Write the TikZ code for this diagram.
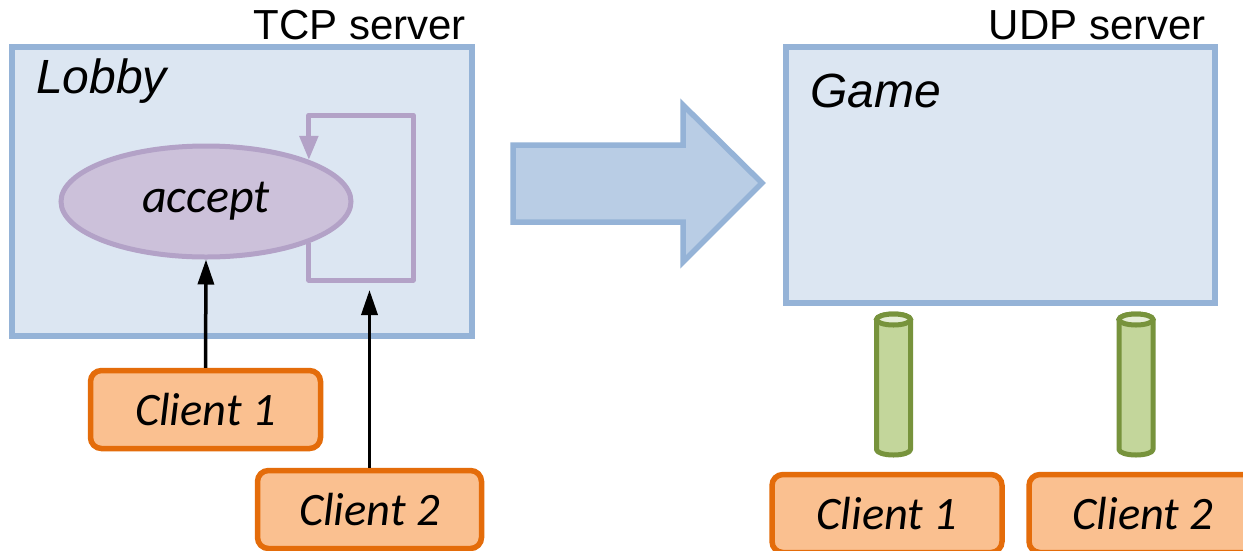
\documentclass[tikz,border=0pt]{standalone}
\usepackage{fontspec}
\setmainfont{Liberation Sans}
\newfontfamily\carlito{Carlito}
\usetikzlibrary{arrows.meta,shapes.geometric,calc}

\definecolor{srvfill}{HTML}{DCE6F2}
\definecolor{srvline}{HTML}{95B3D7}
\definecolor{accfill}{HTML}{CCC1DA}
\definecolor{accline}{HTML}{B3A2C7}
\definecolor{clifill}{HTML}{FAC090}
\definecolor{cliline}{HTML}{E46C0A}
\definecolor{pipefill}{HTML}{C3D69B}
\definecolor{pipeend}{HTML}{E6EED8}
\definecolor{pipeline}{HTML}{77933C}
\definecolor{bigarrow}{HTML}{B9CDE5}

\tikzset{
  server/.style={draw=srvline, fill=srvfill, line width=5.5pt, inner sep=0pt},
  client/.style={draw=cliline, fill=clifill, line width=5.5pt, rounded corners=11pt,
    inner sep=0pt, minimum width=230pt, minimum height=78pt,
    font=\carlito\itshape\fontsize{46.5}{56}\selectfont},
  title/.style={inner sep=0pt, font=\fontsize{42}{50}\selectfont},
  label/.style={inner sep=0pt, font=\itshape\fontsize{48}{58}\selectfont},
  pipebody/.style={draw=pipeline, fill=pipefill, line width=5pt, line join=round},
  pipetop/.style={draw=pipeline, fill=pipeend, line width=5pt},
  conn/.style={draw=black, line width=3.5pt, -{Triangle[length=25pt,width=16pt]}},
  selfloop/.style={draw=accline, line width=5pt, line join=round,
    -{Triangle[length=24pt,width=18pt]}},
}

\begin{document}
\begin{tikzpicture}[x=1pt, y=-1pt]
  \clip (0,0) rectangle (1243,550);
  \fill[white] (0,0) rectangle (1243,550);

  % TCP lobby
  \node[server, minimum width=460pt, minimum height=289pt] (lobby) at (242,191.5) {};
  \node[title, anchor=base east] (tcp) at (466,39) {TCP server};
  \node[label, anchor=base west] (lobbylbl) at (36,93) {Lobby};

  \node[ellipse, draw=accline, fill=accfill, line width=5pt, inner sep=0pt,
    minimum width=290pt, minimum height=111pt,
    font=\carlito\itshape\fontsize{48}{58}\selectfont] (acc) at (206,201.5) {accept};

  \coordinate (lb) at (413,280);
  \coordinate (lt) at (413,115);
  \draw[selfloop] (acc.-22) |- (lb) -- (lt) -| (acc.22);

  \node[client] (c1) at (205.5,409.5) {Client 1};
  \node[client, minimum width=224pt] (c2) at (369.5,509.5) {Client 2};
  \coordinate (c2end) at (369.5,290);

  \draw[conn] (c1.north) -- (acc.south);
  \draw[conn] (c2.north) -- (c2end);

  % transition arrow
  \draw[draw=srvline, fill=bigarrow, line width=5.5pt, line join=miter]
    (513,145) -- (683,145) -- (683,105) -- (762,183) -- (683,262)
    -- (683,222) -- (513,222) -- cycle;

  % UDP game
  \node[server, minimum width=429pt, minimum height=256pt] (game) at (1000.5,175) {};
  \node[title, anchor=base east] (udp) at (1206,39) {UDP server};
  \node[label, anchor=base west] (gamelbl) at (810,107) {Game};

  % UDP sockets drawn as upright cylinders
  \foreach \name/\cx in {p1/893.5, p2/1136} {
    \coordinate (\name) at (\cx,319.5);
    \path[pipebody] ($(\name)+(-17,0)$) -- ++(0,130)
      arc[start angle=180, end angle=0, x radius=17, y radius=5.5]
      -- ++(0,-130)
      arc[start angle=0, end angle=-180, x radius=17, y radius=5.5] -- cycle;
    \path[pipetop] (\name) ellipse[x radius=17, y radius=5.5];
  }

  \node[client] (g1) at (887,513.5) {Client 1};
  \node[client, minimum width=228pt] (g2) at (1143,513.5) {Client 2};
\end{tikzpicture}
\end{document}
